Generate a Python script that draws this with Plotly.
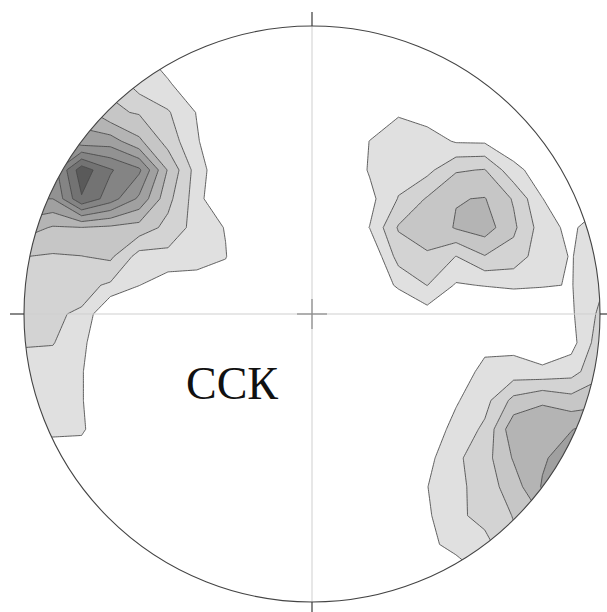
import numpy as np
import plotly.graph_objects as go

# Stereonet grid (unit primitive circle), step 0.1, columns west->east, rows north->south
grid_x = np.round(np.arange(-1.1, 1.1001, 0.1), 2)
grid_y = grid_x[::-1]

# Pole density (contour level units) sampled on the grid
density = [
    [0]*23,
    [0]*23,
    [0, 0, 2, 3, 2.5, 1.2, 0.5, 0, 0, 0, 0, 0, 0, 0, 0, 0, 0, 0, 0, 0, 0, 0, 0],
    [0, 3, 4, 4, 2.8, 1.5, 1.1, 0.3, 0, 0, 0, 0, 0, 0, 0, 0, 0, 0, 0, 0, 0, 0, 0],
    [0, 4, 5, 4.5, 3.2, 2.9, 2.1, 0.95, 0, 0, 0, 0, 0, 0.2, 0.9, 0.5, 0, 0, 0, 0, 0, 0, 0],
    [0, 6, 6.5, 5.4, 5.5, 4.2, 2.6, 1.1, 0, 0, 0, 0, 0, 1.02, 1.5, 1.5, 0.9, 0.85, 0.3, 0, 0, 0, 0],
    [0, 7, 6.5, 9.6, 8.1, 7.2, 3.9, 1.55, 0, 0, 0, 0, 0, 1.1, 1.6, 1.7, 2.9, 3.05, 1.3, 0.5, 0, 0, 0],
    [0, 6, 6.0, 8.9, 7.5, 5.8, 3.3, 1.5, -0.5, 0, 0, 0, 0, 0.7, 2.05, 3.1, 3.95, 4.05, 2.9, 1.02, 0.3, 0.5, 0],
    [4, 4.5, 3.9, 3.97, 3.8, 3.6, 2.7, 1.6, 0.95, 0, 0, 0, 0, 1.02, 3.1, 3.2, 4.1, 4.5, 3.2, 1.5, 0.7, 2.0, 2.0],
    [3, 3.02, 2.9, 2.98, 3.2, 1.6, 1.7, 1.4, 1.05, -0.3, 0, 0, 0, 0, 2.4, 2.95, 1.98, 2.95, 2.6, 1.4, 0.95, 1.6, 1.6],
    [2.5, 2.5, 2.4, 2.3, 1.85, 1.02, 0.4, 0.55, 0.5, 0, 0, 0, 0, 0, 1.2, 2.02, 0.9, 1.05, 1.2, 1.1, 0.95, 1.8, 1.8],
    [2.3, 2.3, 2.1, 1.9, -0.3, -0.3, 0, 0, 0, 0, 0, 0, 0, 0, -0.3, 0.55, 0.3, -0.3, -0.3, -0.3, 0.85, 2.2, 2.2],
    [1.95, 2.1, 2.05, 1.3, -0.3, 0, 0, 0, 0, 0, 0, 0, 0, 0, 0, 0, 0, 0.5, 0.65, 0, 0.6, 2.6, 2.6],
    [1.5, 1.5, 1.5, 1.1, -0.5, 0, 0, 0, 0, 0, 0, 0, 0, 0, 0, 0, 0, 1.5, 1.45, 1.3, 1.6, 2.8, 2.8],
    [1.3, 1.3, 1.4, 1.1, -0.5, 0, 0, 0, 0, 0, 0, 0, 0, 0, 0, -0.5, 0.9, 1.65, 3.3, 3.9, 3.4, 3.5, 3.5],
    [1.2, 1.2, 1.3, 1.25, -0.5, 0, 0, 0, 0, 0, 0, 0, 0, 0, -0.5, 0.4, 1.3, 2.2, 4.7, 4.5, 4.95, 5.6, 5.6],
    [0.2, 0.2, 0.2, 0.1, -0.5, 0, 0, 0, 0, 0, 0, 0, 0, 0, -0.5, 0.7, 1.8, 2.6, 4.1, 4.85, 5.6, 6.0, 6.0],
    [0, 0, 0, 0, 0, 0, 0, 0, 0, 0, 0, 0, 0, 0, -0.5, 0.98, 1.7, 2.5, 3.5, 5.1, 6.0, 6.0, 6.0],
    [0, 0, 0, 0, 0, 0, 0, 0, 0, 0, 0, 0, 0, 0, -0.5, 0.85, 1.8, 2.3, 3.05, 4.05, 5.0, 5.0, 5.0],
    [0, 0, 0, 0, 0, 0, 0, 0, 0, 0, 0, 0, 0, 0, -0.3, 0.7, 1.4, 1.7, 2.8, 3.5, 3.5, 3.5, 3.5],
    [0, 0, 0, 0, 0, 0, 0, 0, 0, 0, 0, 0, 0, 0, 0, 0.3, 0.3, 1.2, 2.05, 2.5, 2.5, 2.5, 2.5],
    [0]*23,
    [0]*23,
]

# Contour intervals and their grey fills (first entry: below the lowest level)
contour_levels = [1, 2, 3, 4, 5, 6, 7, 8, 9]
level_colors = ["#ffffff", "#e0e0e0", "#d3d3d3", "#c6c6c6", "#b4b4b4",
                "#a0a0a0", "#929292", "#848484", "#737373", "#5a5a5a"]
label_text = "ССК"

n = len(contour_levels)
colorscale = [[k / n, c] for k, c in enumerate(level_colors)]

fig = go.Figure()
fig.add_trace(go.Contour(
    x=grid_x, y=grid_y, z=density,
    contours=dict(start=contour_levels[0], end=contour_levels[-1], size=1,
                  coloring="fill", showlines=True),
    line=dict(color="#474747", width=0.85, smoothing=0),
    colorscale=colorscale, showscale=False, hoverinfo="skip",
))

# White mask outside the primitive circle
theta = np.linspace(0, 2 * np.pi, 361)
outer = "M -2,-2 L 2,-2 L 2,2 L -2,2 Z"
ring = "M " + " L ".join(f"{np.cos(t):.5f},{np.sin(t):.5f}" for t in theta) + " Z"
shapes = [dict(type="path", path=outer + " " + ring, fillcolor="white",
               fillrule="evenodd", line=dict(width=0), layer="above")]

px = 1 / 288.0  # one screen pixel in circle units
grey = "#cfcfcf"
dark = "#3a3a3a"
# Thin N-S and E-W diameters
shapes.append(dict(type="line", x0=-1, x1=1, y0=0, y1=0, line=dict(color=grey, width=1), layer="above"))
shapes.append(dict(type="line", x0=0, x1=0, y0=-1, y1=1, line=dict(color=grey, width=1), layer="above"))
# Centre cross
shapes.append(dict(type="line", x0=-15 * px, x1=15 * px, y0=0, y1=0, line=dict(color="#8a8a8a", width=1.2), layer="above"))
shapes.append(dict(type="line", x0=0, x1=0, y0=-15 * px, y1=15 * px, line=dict(color="#8a8a8a", width=1.2), layer="above"))
# Primitive circle
shapes.append(dict(type="circle", x0=-1, x1=1, y0=-1, y1=1, line=dict(color="#444444", width=1.1), layer="above"))
# Outer ticks
shapes.append(dict(type="line", x0=-1 - 14 * px, x1=-1, y0=0, y1=0, line=dict(color=dark, width=1.2), layer="above"))
shapes.append(dict(type="line", x0=1, x1=1 + 10 * px, y0=0, y1=0, line=dict(color=dark, width=1.2), layer="above"))
shapes.append(dict(type="line", x0=0, x1=0, y0=1, y1=1 + 14 * px, line=dict(color=dark, width=1.2), layer="above"))
shapes.append(dict(type="line", x0=0, x1=0, y0=-1, y1=-1 - 12 * px, line=dict(color=dark, width=1.2), layer="above"))

fig.update_layout(
    width=607, height=612,
    margin=dict(l=0, r=0, t=0, b=0),
    paper_bgcolor="white", plot_bgcolor="white",
    showlegend=False,
    shapes=shapes,
    xaxis=dict(range=[-312 * px, 295 * px], visible=False, fixedrange=True),
    yaxis=dict(range=[-298 * px, 314 * px], visible=False, fixedrange=True),
    annotations=[dict(x=-80 * px, y=-69 * px, xref="x", yref="y", text=label_text,
                      showarrow=False, xanchor="center", yanchor="middle",
                      font=dict(family="Liberation Serif, Times New Roman, serif", size=46, color="#111111"))],
)

fig.write_html("out.html")
